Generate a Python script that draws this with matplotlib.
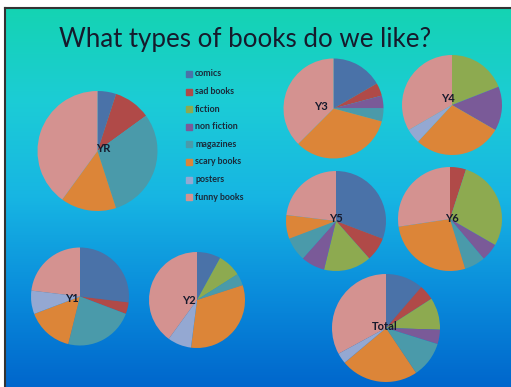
import matplotlib.pyplot as plt
import numpy as np
from matplotlib.colors import LinearSegmentedColormap

categories = ["comics", "sad books", "fiction", "non fiction",
              "magazines", "scary books", "posters", "funny books"]
colors = ["#4a72a8", "#b04a48", "#8daa50", "#7a5a98",
          "#4a9aaa", "#dc8538", "#94a8d2", "#d49290"]

# counts per year group, in the order of categories
yr = [1, 2, 0, 0, 6, 3, 0, 8]
y1 = [7, 1, 0, 0, 6, 4, 2, 6]
y2 = [2, 0, 2, 0, 1, 8, 2, 10]
y3 = [4, 1, 0, 1, 1, 8, 0, 9]
y4 = [0, 0, 4, 3, 0, 6, 1, 7]
y5 = [8, 2, 4, 2, 2, 2, 0, 6]
y6 = [0, 1, 5.7, 1.1, 1.3, 5.5, 0, 5.5]
total = [11.3, 4.6, 9.6, 4.3, 10.8, 23.3, 3.2, 32.9]

W, H = 511, 387
fig = plt.figure(figsize=(W / 100, H / 100), dpi=100)
fig.patch.set_facecolor("white")

# slide background with vertical gradient
bg = fig.add_axes([0, 0, 1, 1])
bg.set_xlim(0, W)
bg.set_ylim(H, 0)
bg.axis("off")
cmap = LinearSegmentedColormap.from_list("slide", [
    (0.0, (0.08, 0.83, 0.70)),
    (0.25, (0.11, 0.80, 0.84)),
    (0.5, (0.09, 0.71, 0.89)),
    (0.75, (0.04, 0.55, 0.86)),
    (1.0, (0.0, 0.40, 0.80)),
])
grad = np.linspace(0, 1, 256).reshape(-1, 1)
bg.imshow(grad, cmap=cmap, aspect="auto", extent=(5, W + 1, H + 1, 8))
bg.plot([4.5, W + 1], [8, 8], color="#333333", lw=1.5)
bg.plot([4.5, 4.5], [8, H + 1], color="#333333", lw=1.5)

bg.text(245, 40, "What types of books do we like?", ha="center", va="center",
        fontsize=18.6, family="Lato", color="#161a2c")

# legend
for i, (cat, col) in enumerate(zip(categories, colors)):
    ly = 74 + i * 17.6
    bg.add_patch(plt.Rectangle((186, ly - 3), 6, 6, color=col))
    bg.text(195, ly, cat, ha="left", va="center", fontsize=6.4,
            family="Lato", fontweight="bold", color="#1a2a3a")

# (data, center x, center y, radius, label, label x, label y) in pixels
pies = [
    (yr, 97.5, 151, 60, "YR", 103, 148),
    (y3, 333.5, 108.5, 50, "Y3", 321, 107),
    (y4, 452, 105, 50, "Y4", 448, 98),
    (y5, 336, 221, 50, "Y5", 336, 219),
    (y6, 450, 219, 52, "Y6", 452, 218),
    (y1, 80, 296.5, 49, "Y1", 72, 298),
    (y2, 197, 300, 48, "Y2", 189, 300),
    (total, 386, 328, 54, "Total", 385, 326),
]

for vals, cx, cy, r, lab, lx, ly in pies:
    ax = fig.add_axes([(cx - r) / W, 1 - (cy + r) / H, 2 * r / W, 2 * r / H])
    ax.pie(vals, colors=colors, startangle=90, counterclock=False,
           wedgeprops=dict(linewidth=0))
    ax.set_xlim(-1, 1)
    ax.set_ylim(-1, 1)
    ax.set_aspect("auto")
    ax.axis("off")

# pie labels on top of everything
top = fig.add_axes([0, 0, 1, 1])
top.set_xlim(0, W)
top.set_ylim(H, 0)
top.axis("off")
for vals, cx, cy, r, lab, lx, ly in pies:
    top.text(lx, ly, lab, ha="center", va="center", fontsize=8,
             family="Lato", fontweight="bold", color="#161a2c")

fig.savefig("out.png", dpi=100)
